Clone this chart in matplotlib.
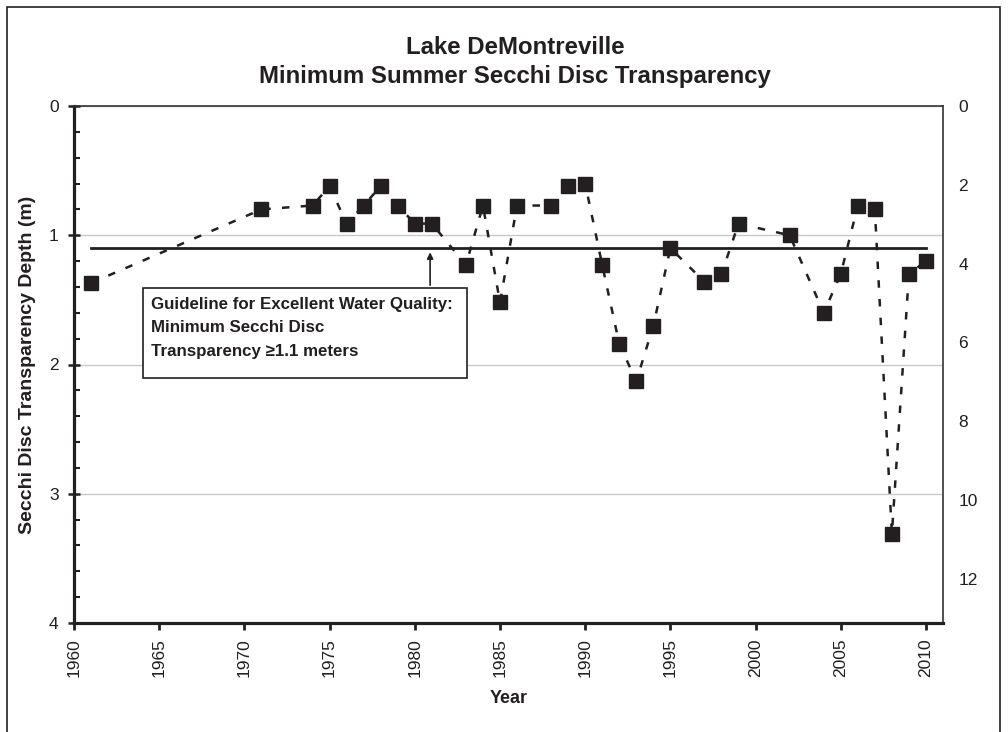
import matplotlib
matplotlib.use("Agg")
import matplotlib.pyplot as plt
from matplotlib.patches import Rectangle
from matplotlib.ticker import MultipleLocator

plt.rcParams['font.family'] = ['Liberation Sans', 'DejaVu Sans']

# summer minimum secchi depth (m)
years = [1961, 1971, 1974, 1975, 1976, 1977, 1978, 1979, 1980, 1981,
         1983, 1984, 1985, 1986, 1988, 1989, 1990, 1991, 1992, 1993,
         1994, 1995, 1997, 1998, 1999, 2002, 2004, 2005, 2006, 2007,
         2008, 2009, 2010]
depth = [1.37, 0.80, 0.77, 0.62, 0.91, 0.77, 0.62, 0.77, 0.91, 0.91,
         1.23, 0.77, 1.52, 0.77, 0.77, 0.62, 0.60, 1.23, 1.84, 2.13,
         1.70, 1.10, 1.36, 1.30, 0.91, 1.00, 1.60, 1.30, 0.77, 0.80,
         3.31, 1.30, 1.20]

guide_years = [1961, 2010]
guide_depth = [1.1, 1.1]

year_ticks = list(range(1960, 2011, 5))
left_ticks = [0, 1, 2, 3, 4]
right_ticks = [0, 2, 4, 6, 8, 10, 12]

ink = '#231f20'

fig = plt.figure(figsize=(10.08, 7.32), dpi=100)
ax = fig.add_axes([74/1008, 1-623/732, (943-74)/1008, (623-106)/732])

ax.yaxis.grid(True, color='#c8c8c8', linewidth=1)
ax.set_axisbelow(True)

ax.plot(years, depth, color=ink, linestyle=(0, (3, 4.5)), linewidth=1.8,
        marker='s', markersize=10, markerfacecolor=ink, markeredgecolor=ink, zorder=3)
ax.plot(guide_years, guide_depth, color=ink, linewidth=2, zorder=2)

ax.set_xlim(1960, 2011)
ax.set_ylim(4, 0)
ax.set_xticks(year_ticks)
ax.set_xticklabels([str(y) for y in year_ticks], rotation=90)
ax.set_yticks(left_ticks)
ax.yaxis.set_minor_locator(MultipleLocator(0.2))

ax.tick_params(axis='x', direction='out', length=5, width=2, color=ink,
               labelsize=12.5, pad=6, labelcolor=ink)
ax.tick_params(axis='y', which='major', direction='inout', length=8, width=1.8,
               color=ink, labelsize=12.5, pad=7, labelcolor=ink)
ax.tick_params(axis='y', which='minor', direction='in', length=4, width=1.5, color=ink)

for s in ['left', 'bottom']:
    ax.spines[s].set_linewidth(2.3)
    ax.spines[s].set_color(ink)
for s in ['top', 'right']:
    ax.spines[s].set_linewidth(1.2)
    ax.spines[s].set_color('#333333')

ax2 = ax.twinx()
ax2.set_ylim(13.12, 0)
ax2.set_yticks(right_ticks)
ax2.tick_params(axis='y', length=0, labelsize=12.5, pad=11, labelcolor=ink)
for s in ax2.spines.values():
    s.set_visible(False)

# guideline note
box = Rectangle((1964.06, 1.408), 19.0, 0.696, facecolor='white',
                edgecolor=ink, linewidth=1.2, zorder=4)
ax.add_patch(box)
ax.text(1964.5, 1.475, "Guideline for Excellent Water Quality:\nMinimum Secchi Disc\nTransparency \u22651.1 meters",
        fontsize=12.2, fontweight='bold', color=ink, va='top', ha='left',
        linespacing=1.72, zorder=5)
ax.annotate('', xy=(1980.9, 1.11), xytext=(1980.9, 1.408),
            arrowprops=dict(arrowstyle='-|>', color=ink, lw=1.2, mutation_scale=9),
            zorder=4)

ax.set_xlabel('Year', fontsize=13, fontweight='bold', color=ink, labelpad=9)
ax.set_ylabel('Secchi Disc Transparency Depth (m)', fontsize=14,
              fontweight='bold', color=ink, labelpad=9)

fig.text(515/1008, 1-47/732, 'Lake DeMontreville', ha='center', va='center',
         fontsize=17.3, fontweight='bold', color=ink)
fig.text(515/1008, 1-77/732, 'Minimum Summer Secchi Disc Transparency', ha='center',
         va='center', fontsize=17.3, fontweight='bold', color=ink)

fig.patches.append(Rectangle((7/1008, -0.01), (1000-7)/1008, 1-7/732+0.01,
                             transform=fig.transFigure, fill=False,
                             edgecolor=ink, linewidth=1.2))

fig.savefig('out.png', dpi=100)
